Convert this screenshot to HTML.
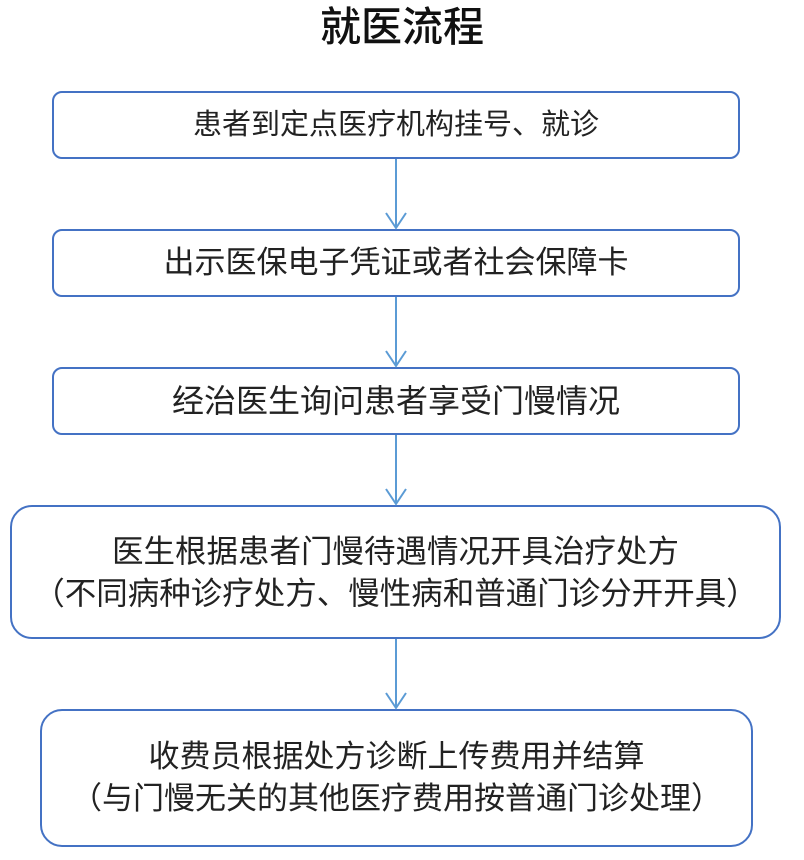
<!DOCTYPE html>
<html><head><meta charset="utf-8"><style>
html,body{margin:0;padding:0;background:#fff;}
body{width:804px;height:860px;position:relative;overflow:hidden;font-family:"Liberation Sans","Noto Sans CJK SC",sans-serif;color:#222;}
.t{position:absolute;left:0;width:804px;top:2px;text-align:center;font-size:41px;line-height:50px;color:#111;font-weight:500;}
.b{position:absolute;box-sizing:border-box;border:2.5px solid #4472C4;display:flex;flex-direction:column;justify-content:center;align-items:center;text-align:center;white-space:nowrap;line-height:42px;font-size:31px;}
svg{position:absolute;left:0;top:0;}
</style></head><body>
<div class="t">就医流程</div>
<div class="b" style="left:52px;top:91px;width:688px;height:68px;border-radius:10px;font-size:29px;">患者到定点医疗机构挂号、就诊</div>
<div class="b" style="left:52px;top:229px;width:688px;height:68px;border-radius:10px;">出示医保电子凭证或者社会保障卡</div>
<div class="b" style="left:52px;top:367px;width:688px;height:68px;border-radius:10px;font-size:32px;">经治医生询问患者享受门慢情况</div>
<div class="b" style="left:10px;top:505px;width:771px;height:134px;border-radius:22px;font-size:31.5px;"><div>医生根据患者门慢待遇情况开具治疗处方</div><div>（不同病种诊疗处方、慢性病和普通门诊分开开具）</div></div>
<div class="b" style="left:40px;top:709px;width:713px;height:138px;border-radius:22px;"><div>收费员根据处方诊断上传费用并结算</div><div>（与门慢无关的其他医疗费用按普通门诊处理）</div></div>
<svg width="804" height="860" fill="none" stroke="#5B9BD5" stroke-width="2">
<path d="M396 159V228M386 213L396 228L406 213"/>
<path d="M396 297V366M386 351L396 366L406 351"/>
<path d="M396 435V504M386 489L396 504L406 489"/>
<path d="M396 639V708M386 693L396 708L406 693"/>
</svg>
</body></html>
